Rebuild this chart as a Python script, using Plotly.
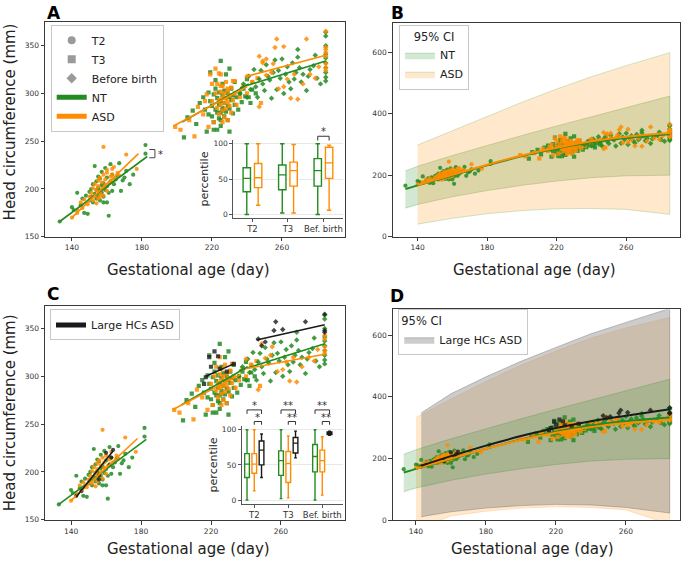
import plotly.graph_objects as go

W, H = 685, 566
FONT = 'DejaVu Sans'
GREEN = '#228b22'
ORANGE = '#ff8c00'
BLACK = '#1a1a1a'

# ---------------- data ----------------
PHASES = ['T2', 'T3', 'Bef. birth']
X_TICKS = [140, 180, 220, 260]
HC_TICKS = [150, 200, 250, 300, 350]
CI_TICKS = [0, 200, 400, 600]
PCT_TICKS = [0, 50, 100]

# (gestational day, head circumference mm)
NT_T2 = [(133, 166), (140, 181), (141, 178), (143, 196), (145, 183), (146, 190), (147, 175), (148, 193),
         (149, 174), (150, 188), (150, 197), (151, 192), (151, 200), (152, 186), (152, 205), (153, 195),
         (153, 224), (154, 190), (154, 199), (154, 208), (155, 193), (155, 213), (155, 201), (156, 188),
         (156, 198), (156, 211), (157, 196), (157, 204), (157, 218), (158, 186), (158, 192), (158, 206),
         (159, 199), (159, 222), (160, 186), (160, 203), (160, 212), (161, 172), (161, 196), (162, 208),
         (162, 226), (163, 198), (163, 215), (164, 205), (165, 210), (166, 214), (167, 227), (168, 198),
         (169, 209), (170, 212), (171, 219), (173, 205), (175, 215), (182, 237), (182, 246)]
ASD_T2 = [(140, 170), (143, 178), (145, 186), (147, 189), (149, 184), (150, 192), (151, 196), (152, 188),
          (152, 201), (153, 193), (153, 205), (154, 185), (154, 199), (155, 190), (155, 203), (155, 209),
          (156, 196), (156, 212), (157, 200), (157, 207), (158, 244), (158, 193), (158, 215), (159, 204),
          (159, 210), (160, 198), (160, 217), (161, 206), (162, 213), (163, 221), (164, 210), (166, 217),
          (167, 214), (171, 236), (177, 221)]
LARGE_T2 = [(143, 175), (146, 180), (156, 192), (156, 196), (160, 220), (162, 207), (163, 215), (164, 223)]

NT_T3 = [(204, 254), (206, 275), (209, 282), (211, 268), (213, 290), (215, 296), (216, 283), (217, 260),
         (218, 301), (219, 292), (219, 322), (220, 276), (220, 287), (221, 299), (221, 270), (222, 283),
         (222, 305), (222, 314), (223, 262), (223, 280), (223, 295), (224, 288), (224, 301), (224, 274),
         (225, 334), (225, 292), (225, 280), (225, 266), (226, 285), (226, 298), (226, 310), (227, 276),
         (227, 290), (227, 303), (228, 281), (228, 295), (228, 320), (229, 272), (229, 287), (229, 300),
         (230, 260), (230, 326), (230, 284), (231, 293), (231, 305), (232, 279), (232, 298), (233, 288),
         (233, 312), (234, 296), (235, 283), (236, 300), (237, 291), (238, 305), (239, 297), (240, 315),
         (241, 296), (242, 290), (243, 304), (245, 300), (225, 272), (221, 262), (230, 296), (226, 282),
         (218, 278)]
ASD_T3 = [(199, 265), (202, 262), (207, 272), (210, 255), (212, 286), (215, 278), (218, 265), (220, 292),
          (221, 270), (222, 300), (223, 285), (223, 310), (224, 293), (224, 278), (225, 302), (225, 288),
          (225, 320), (226, 296), (226, 282), (226, 308), (227, 290), (227, 300), (227, 275), (228, 295),
          (228, 284), (228, 312), (229, 291), (229, 303), (230, 287), (230, 298), (231, 280), (231, 306),
          (232, 293), (233, 300), (234, 288), (236, 296), (238, 308), (240, 300), (243, 312), (246, 316),
          (248, 290), (226, 270), (229, 272), (232, 313)]
LARGE_T3 = [(216, 292), (217, 299), (219, 320), (220, 310), (222, 326), (224, 321), (225, 308), (229, 305),
            (233, 313)]

NT_BB = [(236, 300), (238, 310), (240, 296), (241, 318), (242, 304), (244, 325), (245, 307), (246, 296),
         (247, 315), (248, 324), (249, 310), (250, 303), (251, 330), (252, 318), (253, 314), (254, 295),
         (255, 322), (256, 335), (257, 304), (258, 324), (259, 316), (260, 336), (261, 300), (262, 320),
         (263, 328), (264, 312), (265, 305), (266, 332), (267, 315), (268, 322), (269, 346), (269, 338),
         (270, 327), (271, 312), (272, 320), (274, 303), (275, 318), (276, 325), (278, 329), (279, 340),
         (280, 316), (282, 310), (285, 364), (285, 360), (285, 350), (285, 341), (285, 337), (285, 332),
         (285, 327), (285, 322), (285, 317), (285, 313)]
ASD_BB = [(240, 318), (243, 312), (247, 286), (249, 334), (251, 319), (254, 322), (255, 331), (258, 305),
          (261, 307), (263, 315), (265, 295), (267, 320), (269, 294), (272, 310), (276, 320), (279, 316),
          (281, 328), (285, 343), (285, 339), (285, 331), (285, 324), (285, 327)]
LARGE_BB = [(247, 339), (249, 332), (251, 336), (256, 348), (257, 357), (261, 349), (274, 357), (285, 365),
            (285, 348), (285, 346)]

# linear fits per period: ([day start, day end], [mm start, mm end])
NT_FIT = [([133, 183], [166, 234]), ([203, 241], [270, 310]), ([236, 285], [306, 334])]
ASD_ALL_FIT = [([140, 178], [170, 237]), ([198, 240], [266, 307]), ([240, 285], [318, 340])]
ASD_FIT = [([140, 178], [170, 235]), ([198, 237], [265, 302]), ([240, 285], [308, 323])]
LARGE_FIT = [([143, 164], [174, 222]), ([217, 233], [300, 313]), ([246, 285], [338, 354])]

# growth curves and 95% CI
NT_CURVE_X = [133, 140, 160, 180, 200, 220, 240, 260, 285]
NT_CURVE = [155, 167, 199, 232, 262, 287, 307, 321, 333]
NT_CI_HI = [214, 229, 264, 297, 329, 360, 390, 420, 457]
NT_CI_LO = [93, 105, 130, 150, 167, 181, 192, 198, 200]

ASD_CURVE_X = [140, 160, 180, 200, 220, 240, 260, 285]
ASD_ALL_CURVE = [168, 201, 234, 264, 289, 310, 325, 337]
ASD_ALL_CI_HI = [298, 345, 390, 437, 480, 520, 556, 598]
ASD_ALL_CI_LO = [41, 60, 75, 85, 91, 92, 89, 73]
ASD_CURVE = [168, 200, 232, 261, 284, 302, 315, 325]
ASD_CI_HI = [333, 393, 450, 502, 548, 590, 623, 657]
ASD_CI_LO = [-30, 14, 30, 40, 44, 42, 34, -12]

LARGE_CURVE_X = [143, 160, 180, 200, 220, 240, 260, 285]
LARGE_CURVE = [177, 208, 242, 273, 299, 321, 339, 360]
LARGE_CI_HI = [348, 410, 465, 515, 560, 604, 641, 686]
LARGE_CI_LO = [12, 28, 40, 48, 52, 50, 42, 24]

# percentile boxes (T2, T3, Bef. birth)
NT_PCT = dict(q1=[32, 35, 40], median=[51, 56, 62], q3=[66, 70, 79], lowerfence=[0, 2, 0], upperfence=[100, 100, 100])
ASD_ALL_PCT = dict(q1=[38, 40, 51], median=[52, 62, 73], q3=[72, 74, 95], lowerfence=[13, 2, 6], upperfence=[100, 99, 98])
ASD_PCT = dict(q1=[38, 25, 40], median=[51, 52, 56], q3=[66, 69, 71], lowerfence=[13, 3, 7], upperfence=[100, 91, 90])
LARGE_PCT = dict(q1=[50, 67, 93], median=[71, 81, 95], q3=[84, 89, 97], lowerfence=[32, 60, 92], upperfence=[94, 98, 98])

# ---------------- layout helpers ----------------
BOXGAP = 0.36


def px(x):
    return x / W


def py(y):
    return 1 - y / H


def scatter(data, symbol, color, xa, ya, opacity=0.85):
    return go.Scatter(x=[p[0] for p in data], y=[p[1] for p in data], mode='markers',
                      marker=dict(symbol=symbol, size=4.2, color=color, opacity=opacity, line=dict(width=0)),
                      xaxis=xa, yaxis=ya, showlegend=False, hoverinfo='skip')


def line(xs, ys, color, xa, ya, width=1.6, shape='linear'):
    return go.Scatter(x=xs, y=ys, mode='lines', line=dict(color=color, width=width, shape=shape),
                      xaxis=xa, yaxis=ya, showlegend=False, hoverinfo='skip')


def band(xs, lo, hi, fill, edge, xa, ya, name=None, legend='legend'):
    return go.Scatter(x=xs + xs[::-1], y=hi + lo[::-1], mode='lines', fill='toself', fillcolor=fill,
                      line=dict(color=edge, width=0.8), xaxis=xa, yaxis=ya,
                      name=name, showlegend=name is not None, legend=legend, hoverinfo='skip')


def box(stats, color, group, xa, ya):
    return go.Box(x=PHASES, **stats, xaxis=xa, yaxis=ya, offsetgroup=group, boxpoints=False,
                  fillcolor='white', line=dict(color=color, width=1.4), whiskerwidth=0.6,
                  showlegend=False, hoverinfo='skip')


def frame_axis(domain, rng, ticks, anchor):
    return dict(domain=domain, range=rng, anchor=anchor, tickvals=ticks, showline=True, mirror=True,
                linecolor='#3a3a3a', linewidth=1, ticks='outside', ticklen=3.5, tickcolor='#3a3a3a',
                showgrid=False, zeroline=False, tickfont=dict(size=7.5, color='#333'))


def inset_axes(xdom, ydom, xrng, xa, ya):
    xax = dict(domain=xdom, range=xrng, anchor=ya, type='category', categoryorder='array',
               categoryarray=PHASES, showline=True, linecolor='#555', ticks='outside', ticklen=3,
               tickcolor='#555', showgrid=False, zeroline=False, tickfont=dict(size=8.5, color='#333'))
    yax = dict(domain=ydom, range=[-5, 105], anchor=xa, tickvals=PCT_TICKS, showline=True, linecolor='#555',
               ticks='outside', ticklen=3, tickcolor='#555', showgrid=True, gridcolor='#e8e8e8',
               zeroline=False, tickfont=dict(size=7.5, color='#333'),
               title=dict(text='percentile', font=dict(size=11), standoff=2))
    return xax, yax


fig = go.Figure()
SYMBOLS = ['circle', 'square', 'diamond']

# ---- A: all ASD in orange ----
for nt, asd, lg, sym in zip([NT_T2, NT_T3, NT_BB], [ASD_T2, ASD_T3, ASD_BB], [LARGE_T2, LARGE_T3, LARGE_BB], SYMBOLS):
    fig.add_trace(scatter(nt, sym, GREEN, 'x', 'y'))
    fig.add_trace(scatter(asd + lg, sym, ORANGE, 'x', 'y'))
for f in NT_FIT:
    fig.add_trace(line(*f, GREEN, 'x', 'y'))
for f in ASD_ALL_FIT:
    fig.add_trace(line(*f, ORANGE, 'x', 'y'))
for name, sym in zip(['T2', 'T3', 'Before birth'], SYMBOLS):
    fig.add_trace(go.Scatter(x=[None], y=[None], mode='markers', name=name, legend='legend',
                             marker=dict(symbol=sym, size=8, color='#9a9a9a'), xaxis='x', yaxis='y'))
for name, col in [('NT', GREEN), ('ASD', ORANGE)]:
    fig.add_trace(go.Scatter(x=[None], y=[None], mode='lines', name=name, legend='legend',
                             line=dict(color=col, width=5), xaxis='x', yaxis='y'))

# ---- B ----
fig.add_trace(band(NT_CURVE_X, NT_CI_LO, NT_CI_HI, 'rgba(34,139,34,0.2)', 'rgba(34,139,34,0.3)',
                   'x2', 'y2', 'NT', 'legend2'))
fig.add_trace(band(ASD_CURVE_X, ASD_ALL_CI_LO, ASD_ALL_CI_HI, 'rgba(255,140,0,0.2)', 'rgba(150,190,120,0.5)',
                   'x2', 'y2', 'ASD', 'legend2'))
for nt, asd, lg, sym in zip([NT_T2, NT_T3, NT_BB], [ASD_T2, ASD_T3, ASD_BB], [LARGE_T2, LARGE_T3, LARGE_BB], SYMBOLS):
    fig.add_trace(scatter(nt, sym, GREEN, 'x2', 'y2'))
    fig.add_trace(scatter(asd + lg, sym, ORANGE, 'x2', 'y2'))
fig.add_trace(line(NT_CURVE_X, NT_CURVE, GREEN, 'x2', 'y2', 2, 'spline'))
fig.add_trace(line(ASD_CURVE_X, ASD_ALL_CURVE, ORANGE, 'x2', 'y2', 2, 'spline'))

# ---- C: large HCs split out ----
for nt, asd, lg, sym in zip([NT_T2, NT_T3, NT_BB], [ASD_T2, ASD_T3, ASD_BB], [LARGE_T2, LARGE_T3, LARGE_BB], SYMBOLS):
    fig.add_trace(scatter(nt, sym, GREEN, 'x3', 'y3'))
    fig.add_trace(scatter(asd, sym, ORANGE, 'x3', 'y3'))
    fig.add_trace(scatter(lg, sym, BLACK, 'x3', 'y3', 0.8))
for fits, col in [(NT_FIT, GREEN), (ASD_FIT, ORANGE), (LARGE_FIT, BLACK)]:
    for f in fits:
        fig.add_trace(line(*f, col, 'x3', 'y3'))
fig.add_trace(go.Scatter(x=[None], y=[None], mode='lines', name='Large HCs ASD', legend='legend3',
                         line=dict(color=BLACK, width=5), xaxis='x3', yaxis='y3'))

# ---- D ----
fig.add_trace(band(ASD_CURVE_X, ASD_CI_LO, ASD_CI_HI, 'rgba(255,140,0,0.2)', 'rgba(255,140,0,0.25)', 'x4', 'y4'))
fig.add_trace(band(LARGE_CURVE_X, LARGE_CI_LO, LARGE_CI_HI, 'rgba(128,128,128,0.4)', 'rgba(110,110,110,0.5)',
                   'x4', 'y4', 'Large HCs ASD', 'legend4'))
fig.add_trace(band(NT_CURVE_X, NT_CI_LO, NT_CI_HI, 'rgba(34,139,34,0.2)', 'rgba(34,139,34,0.3)', 'x4', 'y4'))
for nt, asd, lg, sym in zip([NT_T2, NT_T3, NT_BB], [ASD_T2, ASD_T3, ASD_BB], [LARGE_T2, LARGE_T3, LARGE_BB], SYMBOLS):
    fig.add_trace(scatter(nt, sym, GREEN, 'x4', 'y4'))
    fig.add_trace(scatter(asd, sym, ORANGE, 'x4', 'y4'))
    fig.add_trace(scatter(lg, sym, BLACK, 'x4', 'y4', 0.8))
fig.add_trace(line(NT_CURVE_X, NT_CURVE, GREEN, 'x4', 'y4', 2, 'spline'))
fig.add_trace(line(ASD_CURVE_X, ASD_CURVE, ORANGE, 'x4', 'y4', 2, 'spline'))
fig.add_trace(line(LARGE_CURVE_X, LARGE_CURVE, BLACK, 'x4', 'y4', 2, 'spline'))

# ---- insets ----
fig.add_trace(box(NT_PCT, GREEN, 'nt', 'x5', 'y5'))
fig.add_trace(box(ASD_ALL_PCT, ORANGE, 'asd', 'x5', 'y5'))
fig.add_trace(box(NT_PCT, GREEN, 'nt', 'x6', 'y6'))
fig.add_trace(box(ASD_PCT, ORANGE, 'asd', 'x6', 'y6'))
fig.add_trace(box(LARGE_PCT, BLACK, 'large', 'x6', 'y6'))

# axes domains (pixel positions of the reference)
A_X, B_X = [px(45), px(345)], [px(392.7), px(680)]
TOP_Y, BOT_Y = [py(238.3), py(21)], [py(525), py(308)]
IN_A_X, IN_A_Y, IN_A_R = [px(233.3), px(343.3)], [py(219.3), py(140.7)], [-0.54, 2.56]
IN_C_X, IN_C_Y, IN_C_R = [px(241.7), px(343)], [py(507.9), py(429.8)], [-0.37, 2.61]

x5, y5 = inset_axes(IN_A_X, IN_A_Y, IN_A_R, 'x5', 'y5')
x6, y6 = inset_axes(IN_C_X, IN_C_Y, IN_C_R, 'x6', 'y6')


def inset_px(idx, dom, rng):
    return dom[0] + (idx - rng[0]) / (rng[1] - rng[0]) * (dom[1] - dom[0])


shapes, annos = [], []


def bracket(x0, x1, top, bottom, label, label_y):
    shapes.append(dict(type='path', xref='paper', yref='paper',
                       path=f'M {x0},{py(bottom)} L {x0},{py(top)} L {x1},{py(top)} L {x1},{py(bottom)}',
                       line=dict(color='#333', width=1)))
    annos.append(dict(x=(x0 + x1) / 2, y=py(label_y), xref='paper', yref='paper', text=label, showarrow=False,
                      font=dict(size=10, color='#333'), xanchor='center', yanchor='middle'))


off2 = (1 - BOXGAP) / 4
off3 = (1 - BOXGAP) / 3
bracket(inset_px(2 - off2, IN_A_X, IN_A_R), inset_px(2 + off2, IN_A_X, IN_A_R), 136.7, 141, '*', 132)
for i, lab in enumerate(['*', '**', '**']):
    bracket(inset_px(i - off3, IN_C_X, IN_C_R), inset_px(i + off3, IN_C_X, IN_C_R), 413.3, 417.3, lab, 409)
    bracket(inset_px(i, IN_C_X, IN_C_R), inset_px(i + off3, IN_C_X, IN_C_R), 425, 428.3, lab, 420.7)

# T2 slope bracket in panel A
shapes.append(dict(type='path', xref='x', yref='y', path='M 184.2,241.3 L 187.4,241.3 L 187.4,232.7 L 184.2,232.7',
                   line=dict(color='#444', width=1)))
annos.append(dict(x=190.5, y=236.5, xref='x', yref='y', text='*', showarrow=False,
                  font=dict(size=10, color='#333'), xanchor='center', yanchor='middle'))

# panel letters and axis titles
for letter, x, y in [('A', 54, 0), ('B', 397, 0), ('C', 53, 284), ('D', 397, 286)]:
    annos.append(dict(x=px(x), y=py(y), xref='paper', yref='paper', text=f'<b>{letter}</b>', showarrow=False,
                      font=dict(size=17, color='black'), xanchor='center', yanchor='top'))
for x, y in [(188, 271.5), (534, 271.5), (188, 554), (532, 554)]:
    annos.append(dict(x=px(x), y=py(y), xref='paper', yref='paper', text='Gestational age (day)',
                      showarrow=False, font=dict(size=15, color='#222'), xanchor='center', yanchor='middle'))
for y in [122.7, 416.7]:
    annos.append(dict(x=px(10), y=py(y), xref='paper', yref='paper', text='Head circumference (mm)',
                      textangle=-90, showarrow=False, font=dict(size=15, color='#222'),
                      xanchor='center', yanchor='middle'))

LEG = dict(bgcolor='rgba(255,255,255,0.85)', bordercolor='#c8c8c8', borderwidth=1, font=dict(size=11),
           xanchor='left', yanchor='top', traceorder='normal', tracegroupgap=0)

fig.update_layout(
    width=W, height=H, autosize=False, margin=dict(l=0, r=0, t=0, b=0),
    paper_bgcolor='white', plot_bgcolor='white', font=dict(family=FONT, color='#222'),
    hovermode=False, boxmode='group', boxgap=BOXGAP, boxgroupgap=0.35,
    xaxis=frame_axis(A_X, [124.6, 296], X_TICKS, 'y'),
    yaxis=frame_axis(TOP_Y, [150, 375], HC_TICKS, 'x'),
    xaxis2=frame_axis(B_X, [125.7, 290.9], X_TICKS, 'y2'),
    yaxis2=frame_axis([py(238.3), py(22.7)], [0, 693], CI_TICKS, 'x2'),
    xaxis3=frame_axis(A_X, [125.1, 296.6], X_TICKS, 'y3'),
    yaxis3=frame_axis(BOT_Y, [149.3, 373.8], HC_TICKS, 'x3'),
    xaxis4=frame_axis(B_X, [126.7, 290.9], X_TICKS, 'y4'),
    yaxis4=frame_axis([py(525), py(311.7)], [0, 683], CI_TICKS, 'x4'),
    xaxis5=x5, yaxis5=y5, xaxis6=x6, yaxis6=y6,
    legend=dict(LEG, x=px(50.7), y=py(24)),
    legend2=dict(LEG, x=px(399), y=py(24), title=dict(text='95% CI', side='top center', font=dict(size=11.5))),
    legend3=dict(LEG, x=px(50), y=py(311.7)),
    legend4=dict(LEG, x=px(398.3), y=py(311.7), title=dict(text='95% CI', side='top', font=dict(size=11.5))),
    shapes=shapes, annotations=annos,
)

# the page's default body margin would shift the 685x566 figure out of the window
fig.write_html("out.html", config={'displayModeBar': False},
               post_script="document.body.style.margin='0';")
